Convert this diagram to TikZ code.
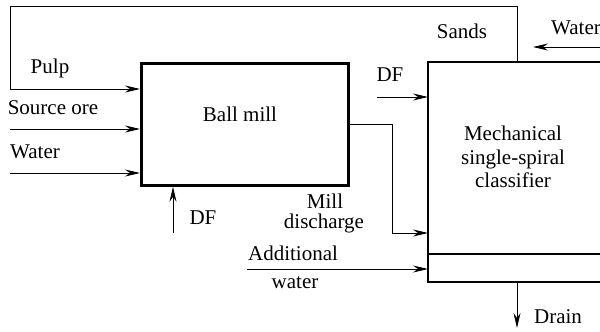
\documentclass[tikz,border=0pt]{standalone}
\usepackage{fontspec}
\setmainfont{Liberation Serif}
\usetikzlibrary{arrows.meta,calc}
\begin{document}
\begin{tikzpicture}[x=1pt,y=-1pt,
  box/.style={draw,line width=2.8pt},
  flow/.style={line width=0.9pt,-{Stealth[length=15pt,width=7pt,inset=5pt]}},
  lbl/.style={font=\fontsize{21}{23.5}\selectfont, inner sep=0pt},
]
\useasboundingbox (0,0) rectangle (600,332);
% ball mill
\node[box, minimum width=207pt, minimum height=122pt, anchor=north west, inner sep=0pt] (mill) at (140,62) {};
\node[lbl] (milltxt) at (240,114) {Ball mill};
% classifier (cut at the right edge)
\coordinate (cNW) at (428,62);
\coordinate (cMW) at (428,254);
\coordinate (cSW) at (428,282);
\coordinate (cNE) at (604,62);
\coordinate (cME) at (604,254);
\coordinate (cSE) at (604,282);
\draw[box] (cNE) -- (cNW) -- (cSW) -- (cSE);
\draw[box] (cMW) -- (cME);
\node[lbl, align=center] (clstxt) at (513,157) {Mechanical\\single-spiral\\classifier};
% sands / pulp loop
\coordinate (sandS) at (517,62);
\coordinate (loopTR) at (517,6);
\coordinate (loopTL) at (10,6);
\coordinate (pulpS) at (10,89);
\draw[flow] (sandS) -- (loopTR) -- (loopTL) -- (pulpS) -- (pulpS -| mill.west);
\node[lbl] (sandslbl) at (462,31) {Sands};
\node[lbl] (pulplbl) at (50,68) {Pulp};
% source ore
\coordinate (oreS) at (10,129);
\draw[flow] (oreS) -- (oreS -| mill.west);
\node[lbl] (orelbl) at (53,108) {Source ore};
% water to mill
\coordinate (watS) at (10,173);
\draw[flow] (watS) -- (watS -| mill.west);
\node[lbl] (watlbl) at (35,152) {Water};
% DF to mill
\coordinate (dfB) at (173,233);
\draw[flow] (dfB) -- (dfB |- mill.south);
\node[lbl] (dfBlbl) at (203,218) {DF};
% mill discharge
\coordinate (md0) at (347,124);
\coordinate (md1) at (392,124);
\coordinate (md2) at (392,233);
\draw[flow] (md0) -- (md1) -- (md2) -- (md2 -| cSW);
\node[lbl] (mill2lbl) at (325,201) {Mill};
\node[lbl] (dischlbl) at (324,223) {discharge};
% additional water
\coordinate (awS) at (247,269);
\draw[flow] (awS) -- (awS -| cSW);
\node[lbl] (addlbl) at (293,253) {Additional};
\node[lbl] (addwlbl) at (295,283) {water};
% DF to classifier
\coordinate (dfT) at (377,97);
\draw[flow] (dfT) -- (dfT -| cNW);
\node[lbl] (dfTlbl) at (390,75) {DF};
% water to classifier
\coordinate (wR) at (600,47);
\coordinate (wE) at (533,47);
\draw[flow] (wR) -- (wE);
\node[lbl, anchor=west] (wRlbl) at (551,28) {Water};
% drain
\coordinate (drT) at (517,282);
\coordinate (drB) at (517,328);
\draw[flow] (drT) -- (drB);
\node[lbl] (drlbl) at (558,317) {Drain};
\end{tikzpicture}
\end{document}
